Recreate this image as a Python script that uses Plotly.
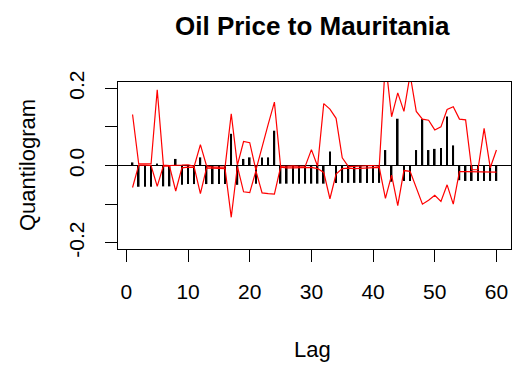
import plotly.graph_objects as go

# Lags 1..60
lags = list(range(1, 61))

# Sample quantilogram at each lag
quantilogram = [
    0.008, -0.055, -0.055, -0.055, 0.005, -0.054, -0.054, 0.017, -0.050, -0.048,
    -0.048, 0.021, -0.048, -0.048, -0.048, -0.048, 0.082, -0.050, 0.017, 0.021,
    -0.047, 0.021, 0.021, 0.090, -0.047, -0.047, -0.047, -0.047, -0.047, -0.047,
    -0.047, -0.047, 0.036, -0.045, -0.045, -0.045, -0.045, -0.045, -0.045, -0.045,
    -0.045, 0.040, -0.042, 0.121, -0.040, -0.040, 0.040, 0.120, 0.040, 0.043,
    0.045, 0.127, 0.052, -0.038, -0.040, -0.040, -0.040, -0.040, -0.040, -0.040,
]

# Confidence band (two bounds)
band_a = [
    0.132, 0.004, 0.004, 0.004, 0.196, 0.001, 0.000, 0.000, 0.001, 0.002,
    -0.002, 0.054, -0.001, -0.004, -0.004, -0.004, 0.134, 0.001, 0.062, 0.059,
    -0.012, 0.050, 0.107, 0.164, -0.002, -0.002, -0.001, -0.002, -0.002, 0.041,
    -0.002, 0.160, 0.146, 0.122, 0.020, -0.003, -0.002, -0.002, -0.001, 0.000,
    -0.002, 0.270, 0.126, 0.188, 0.140, 0.235, 0.140, 0.120, 0.117, 0.092,
    0.100, 0.145, 0.152, 0.120, 0.118, -0.011, -0.011, 0.096, -0.006, 0.040,
]
band_b = [
    -0.057, 0.001, 0.001, 0.000, -0.054, -0.001, -0.002, -0.066, -0.006, -0.004,
    -0.005, -0.073, -0.006, -0.007, -0.007, -0.008, -0.134, -0.002, -0.068, -0.070,
    -0.014, -0.071, -0.073, -0.074, -0.004, -0.006, -0.006, -0.006, -0.006, -0.005,
    -0.008, -0.018, -0.086, -0.022, -0.008, -0.007, -0.008, -0.007, -0.006, -0.006,
    -0.005, -0.085, -0.025, -0.104, -0.013, -0.015, -0.058, -0.100, -0.090, -0.077,
    -0.093, -0.050, -0.100, -0.016, -0.016, -0.016, -0.017, -0.017, -0.017, -0.017,
]

x_ticks = [0, 10, 20, 30, 40, 50, 60]
y_ticks = [-0.2, -0.1, 0.0, 0.1, 0.2]
y_tick_text = ["-0.2", "", "0.0", "", "0.2"]

FONT = "Liberation Sans, Arial, sans-serif"

# plot area in pixels
L, R, T, B = 118, 14, 82, 118
W, H = 525, 367
pw, ph = W - L - R, H - T - B


def to_paper(px, py):
    return (px - L) / pw, (H - B - py) / ph


fig = go.Figure()

fig.add_trace(go.Bar(
    x=lags, y=quantilogram, width=0.26,
    marker=dict(color="black", line=dict(width=0)),
    hoverinfo="x+y",
))
for band in (band_a, band_b):
    fig.add_trace(go.Scatter(
        x=lags, y=band, mode="lines",
        line=dict(color="red", width=1.2),
    ))

annotations = []
for text, (px, py), size, angle in [
    ("<b>Oil Price to Mauritania</b>", (312, 26), 26, 0),
    ("Lag", (312, 349), 22, 0),
    ("Quantilogram", (27, 165), 22, -90),
]:
    ax, ay = to_paper(px, py)
    annotations.append(dict(
        text=text, x=ax, y=ay, xref="paper", yref="paper",
        xanchor="center", yanchor="middle", showarrow=False,
        textangle=angle, font=dict(size=size, family=FONT, color="black"),
    ))

fig.update_layout(
    width=W, height=H,
    margin=dict(l=L, r=R, t=T, b=B),
    paper_bgcolor="white", plot_bgcolor="white",
    showlegend=False,
    font=dict(family=FONT, size=21, color="black"),
    annotations=annotations,
)

fig.update_xaxes(
    range=[-1.36, 62.36], tickvals=x_ticks,
    ticks="outside", ticklen=12, tickwidth=1, tickcolor="black",
    showline=True, mirror=True, linecolor="black", linewidth=1,
    showgrid=False, zeroline=False,
    tickfont=dict(size=21), ticklabelstandoff=12,
)
fig.update_yaxes(
    range=[-0.216, 0.216], tickvals=y_ticks, ticktext=y_tick_text,
    tickangle=-90,
    ticks="outside", ticklen=12, tickwidth=1, tickcolor="black",
    showline=True, mirror=True, linecolor="black", linewidth=1,
    showgrid=False, zeroline=True, zerolinecolor="black", zerolinewidth=1,
    tickfont=dict(size=21), ticklabelstandoff=13,
)

fig.write_html("out.html")
